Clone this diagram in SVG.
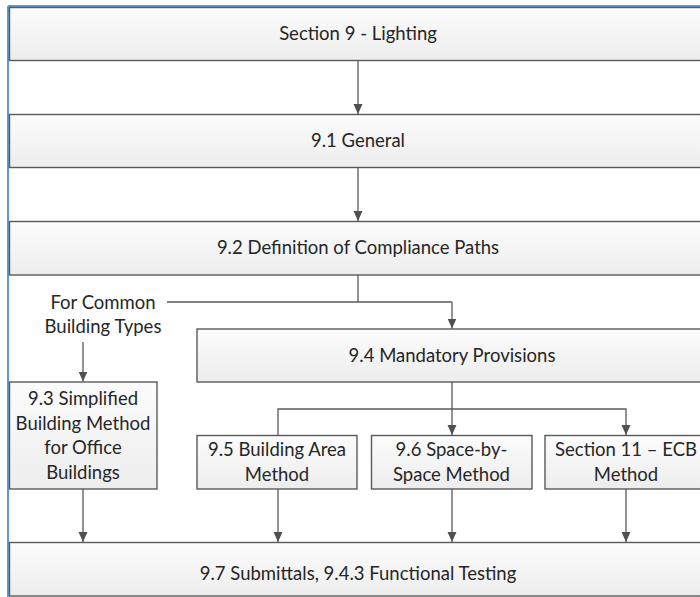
<svg xmlns="http://www.w3.org/2000/svg" width="700" height="597" viewBox="0 0 700 597">
<defs>
<linearGradient id="g" x1="0" y1="0" x2="0" y2="1">
<stop offset="0" stop-color="#fcfcfc"/>
<stop offset="1" stop-color="#ededed"/>
</linearGradient>
<marker id="ah" markerWidth="10" markerHeight="10" viewBox="0 0 10 10" refX="10" refY="5" orient="auto" markerUnits="userSpaceOnUse">
<path d="M0,0.5 L10,5 L0,9.5 z" fill="#505050"/>
</marker>
</defs>
<style>
.box{fill:url(#g);stroke:#5a5a5a;stroke-width:1.4}
.sh{fill:none;stroke:#d8d8d8;stroke-width:2}
.t{font-family:Lato,"Liberation Sans",sans-serif;font-size:18.5px;fill:#262626;text-anchor:middle}
.c{fill:none;stroke:#5a5a5a;stroke-width:1.3}
.a{marker-end:url(#ah)}
</style>
<rect x="0" y="0" width="700" height="597" fill="#ffffff"/>
<g id="frame">
<line x1="8" y1="6" x2="700" y2="6" stroke="#5b9bd5" stroke-width="2"/>
<line x1="8" y1="6" x2="8" y2="597" stroke="#5b9bd5" stroke-width="2"/>
</g>
<g id="connectors">
<line class="c a" x1="358" y1="60.5" x2="358" y2="114"/>
<line class="c a" x1="358" y1="168" x2="358" y2="221"/>
<polyline class="c" points="358,275 358,302"/>
<polyline class="c" points="167,302 452,302"/>
<line class="c a" x1="452" y1="302" x2="452" y2="328.5"/>
<line class="c a" x1="83" y1="342" x2="83" y2="381.5"/>
<line class="c a" x1="452" y1="382" x2="452" y2="435"/>
<polyline class="c a" points="278,435 278,409 626,409 626,435" fill="none"/>
<line class="c a" x1="83" y1="489" x2="83" y2="542"/>
<line class="c a" x1="278" y1="489" x2="278" y2="542"/>
<line class="c a" x1="452" y1="489" x2="452" y2="542"/>
<line class="c a" x1="626" y1="489" x2="626" y2="542"/>
</g>
<g id="n1">
<rect class="box" x="9.5" y="7.5" width="697" height="53"/>
<text class="t" x="358" y="40">Section 9 - Lighting</text>
</g>
<g id="n2">
<rect class="box" x="9.5" y="114.5" width="697" height="53"/>
<text class="t" x="358" y="147">9.1 General</text>
</g>
<g id="n3">
<rect class="box" x="9.5" y="221.5" width="697" height="53.5"/>
<text class="t" x="358" y="254">9.2 Definition of Compliance Paths</text>
</g>
<g id="label">
<text class="t" x="103" y="309">For Common</text>
<text class="t" x="103" y="333">Building Types</text>
</g>
<g id="n4">
<rect class="box" x="197" y="329" width="510" height="53"/>
<text class="t" x="452" y="361.5">9.4 Mandatory Provisions</text>
</g>
<g id="n93">
<rect class="box" x="9.5" y="382" width="147.5" height="107"/>
<text class="t" x="83" y="405">9.3 Simplified</text>
<text class="t" x="83" y="429.5">Building Method</text>
<text class="t" x="83" y="454">for Office</text>
<text class="t" x="83" y="478.5">Buildings</text>
</g>
<g id="n95">
<rect class="box" x="197" y="435.5" width="160" height="53.5"/>
<text class="t" x="277" y="456">9.5 Building Area</text>
<text class="t" x="277" y="480.5">Method</text>
</g>
<g id="n96">
<rect class="box" x="371.5" y="435.5" width="160.5" height="53.5"/>
<text class="t" x="451.5" y="456">9.6 Space-by-</text>
<text class="t" x="451.5" y="480.5">Space Method</text>
</g>
<g id="n11">
<rect class="box" x="545" y="435.5" width="162" height="53.5"/>
<text class="t" x="626" y="456">Section 11 – ECB</text>
<text class="t" x="626" y="480.5">Method</text>
</g>
<g id="n97">
<rect class="box" x="9.5" y="542.5" width="697" height="53.5"/>
<text class="t" x="358" y="580">9.7 Submittals, 9.4.3 Functional Testing</text>
</g>
</svg>
